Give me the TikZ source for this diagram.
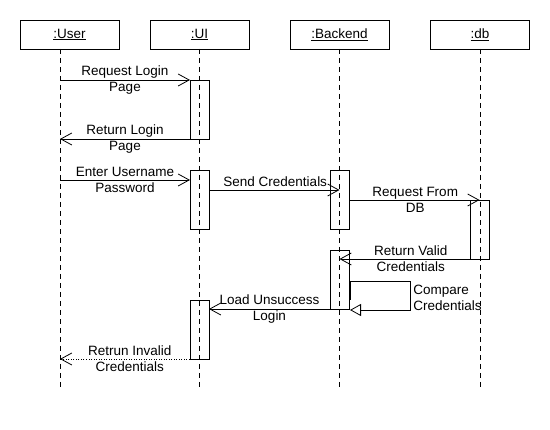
\documentclass[tikz,border=0pt]{standalone}
\usepackage{fontspec}
\setmainfont{Liberation Sans}
\usetikzlibrary{arrows.meta,calc}
\begin{document}
\begin{tikzpicture}[x=1pt,y=1pt, line width=0.8pt,
 font=\fontsize{13.5}{16}\selectfont,
 head/.style={draw, minimum width=99pt, minimum height=29pt, inner sep=0pt, outer sep=0pt},
 act/.style={draw, minimum width=19pt, minimum height=59pt, inner sep=0pt, outer sep=0pt},
 life/.style={dash pattern=on 5pt off 4pt},
 msg/.style={-{Straight Barb[length=11pt,width=12pt]}},
 ret/.style={msg, dash pattern=on 1pt off 1.5pt},
 selfmsg/.style={-{Triangle[open,length=11pt,width=12pt]}},
 lbl/.style={align=center, inner sep=0pt},
]
\useasboundingbox (0,0) rectangle (550,-430);
% headers
\node[head] (user) at (69.5,-34.5) {\underline{:User}};
\node[head] (ui) at (199.5,-34.5) {\underline{:UI}};
\node[head] (be) at (339.5,-34.5) {\underline{:Backend}};
\node[head] (db) at (480,-34.5) {\underline{:db}};
% lifelines
\coordinate (uTop) at (60,-49);
\coordinate (uEnd) at (60,-390);
\coordinate (uiEnd) at (199.5,-390);
\coordinate (beEnd) at (339.5,-390);
\coordinate (dbEnd) at (480,-390);
\draw[life] (uTop) -- (uEnd);
\draw[life] (ui.south) -- (uiEnd);
\draw[life] (be.south) -- (beEnd);
\draw[life] (db.south) -- (dbEnd);
% activations
\node[act] (a1) at (199.5,-109.5) {};
\node[act] (a2) at (199.5,-199.5) {};
\node[act] (b1) at (339.5,-199.5) {};
\node[act] (d1) at (479.5,-229.5) {};
\node[act] (b2) at (339.5,-279.5) {};
\node[act] (a3) at (199.5,-329.5) {};
% messages
\draw[msg] (a1.north west -| uTop) -- node[lbl]{Request Login\\Page} (a1.north west);
\draw[msg] (a1.south west) -- node[lbl]{Return Login\\Page} (a1.south west -| uTop);
\draw[msg] ([yshift=-10pt]a2.north west -| uTop) -- node[lbl]{Enter Username\\Password} ([yshift=-10pt]a2.north west);
\draw[msg] ([yshift=-20pt]a2.north east) -- node[lbl, above=3pt, xshift=1pt]{Send Credentials} ([yshift=-20pt]a2.north east -| b1);
\draw[msg] ([yshift=-30pt]b1.north east) -- node[lbl, xshift=1pt]{Request From\\DB} (d1.north);
\draw[msg] (d1.south west) -- node[lbl, xshift=6pt]{Return Valid\\Credentials} (d1.south west -| b1);
\coordinate (cs) at (350,-300);
\coordinate (ce) at (350,-310);
\draw[selfmsg] (cs) |- (410,-281) |- (ce);
\node[anchor=west, align=left, inner sep=0pt] (cmp) at (413,-298) {Compare\\Credentials};
\draw[msg] (b2.south west) -- node[lbl]{Load Unsuccess\\Login} (b2.south west -| a3.east);
\draw[ret] (a3.south) -- node[lbl]{Retrun Invalid\\Credentials} (a3.south -| uTop);
\end{tikzpicture}
\end{document}
